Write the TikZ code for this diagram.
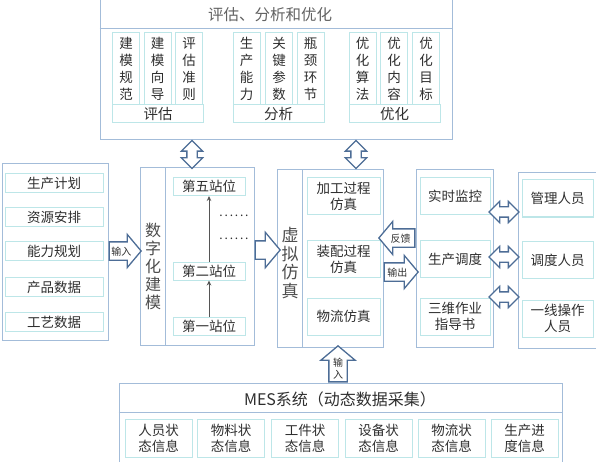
\documentclass[tikz,border=0pt]{standalone}
\usepackage{fontspec}
\setmainfont{Noto Sans CJK SC}
\usetikzlibrary{shapes.arrows,arrows.meta,calc}
\definecolor{outerc}{HTML}{A3BCD9}
\definecolor{innerc}{HTML}{BDE6E8}
\definecolor{arrc}{HTML}{4D6D96}
\definecolor{txt}{HTML}{2E2E2E}
\definecolor{lnc}{HTML}{555555}
\begin{document}
\begin{tikzpicture}[x=1pt,y=-1pt,
  every node/.style={text=txt, inner sep=0pt},
  outer/.style={draw=outerc, line width=1pt},
  inner/.style={draw=innerc, line width=1pt},
  vbox/.style={inner, minimum width=27, minimum height=72, align=center, font=\fontsize{13.5}{17}\selectfont},
  lbox/.style={inner, minimum width=91, minimum height=18, font=\fontsize{14.5}{14.5}\selectfont},
  litem/.style={inner, minimum width=98, minimum height=19, font=\fontsize{13.5}{13.5}\selectfont},
  stbox/.style={inner, minimum width=72, minimum height=18, font=\fontsize{13.5}{13.5}\selectfont},
  sbox/.style={inner, minimum width=73, minimum height=37, align=center, font=\fontsize{13.5}{16}\selectfont},
  cbox/.style={inner, minimum width=70, minimum height=37, align=center, font=\fontsize{13.5}{16}\selectfont},
  pbox/.style={inner, minimum width=71, minimum height=37, align=center, font=\fontsize{13.5}{16}\selectfont},
  mbox/.style={inner, minimum width=67, minimum height=38, align=center, font=\fontsize{13.5}{16}\selectfont},
  vlabel/.style={align=center},
  tarrow/.style={single arrow, draw=arrc, fill=white, line width=1.3pt,
     single arrow tip angle=100, single arrow head extend=7.5pt,
     inner xsep=1pt, inner ysep=3.5pt, text height=9pt, text depth=1pt,
     font=\fontsize{10}{10}\selectfont},
  earrow/.style={single arrow, draw=arrc, fill=white, line width=1.3pt,
     single arrow tip angle=100, single arrow head extend=8.5pt,
     inner xsep=0pt, inner ysep=8.5pt},
  darrow/.style={double arrow, draw=arrc, fill=white, line width=1.3pt,
     double arrow head extend=5.5pt, inner xsep=0pt, inner ysep=4.5pt},
  garrow/.style={draw=lnc, line width=1pt, -{Stealth[length=5pt,width=4.5pt]}}
]
\useasboundingbox (0,0) rectangle (596,462);

% ---------- top block ----------
\node[outer, minimum width=352, minimum height=142] (top) at (276,69) {};
\draw[outer] (top.west |- 0,29) -- (top.east |- 0,29);
\node[font=\fontsize{15.5}{15.5}\selectfont, text=txt!75] (hdr) at (270,15) {评估、分析和优化};

\node[vbox] (e1) at (126,69) {建\\模\\规\\范};
\node[vbox] (e2) at (157.5,69) {建\\模\\向\\导};
\node[vbox] (e3) at (189,69) {评\\估\\准\\则};
\node[lbox] (eval) at (158,114) {评估};

\node[vbox] (f1) at (246.5,69) {生\\产\\能\\力};
\node[vbox] (f2) at (279,69) {关\\键\\参\\数};
\node[vbox] (f3) at (310.5,69) {瓶\\颈\\环\\节};
\node[lbox] (ana) at (278.5,114) {分析};

\node[vbox] (g1) at (362.5,69) {优\\化\\算\\法};
\node[vbox] (g2) at (394,69) {优\\化\\内\\容};
\node[vbox] (g3) at (426,69) {优\\化\\目\\标};
\node[lbox] (opt) at (394.5,114) {优化};

% ---------- left input block ----------
\node[outer, minimum width=106, minimum height=176] (inp) at (55,252) {};
\node[litem] (l1) at (54,183) {生产计划};
\node[litem] (l2) at (54,217) {资源安排};
\node[litem] (l3) at (54,251) {能力规划};
\node[litem] (l4) at (54,287) {产品数据};
\node[litem] (l5) at (54,322) {工艺数据};

% ---------- digital modelling ----------
\node[outer, minimum width=114, minimum height=177] (model) at (197,256.5) {};
\draw[outer] ($(model.north west)+(26,0)$) -- ($(model.south west)+(26,0)$);
\node[vlabel, font=\fontsize{16}{18}\selectfont, text=txt!85] (modlbl) at (153,266) {数\\字\\化\\建\\模};
\node[stbox] (s5) at (209,186.5) {第五站位};
\node[stbox] (s2) at (209,271) {第二站位};
\node[stbox] (s1) at (209,326) {第一站位};
\draw[garrow] (s1) -- (s2);
\draw[garrow] (s2) -- (s5);
\node[font=\fontsize{12}{12}\selectfont] (dots1) at (234,216) {.\kern1.8pt.\kern1.8pt.\kern1.8pt.\kern1.8pt.\kern1.8pt.};
\node[font=\fontsize{12}{12}\selectfont] (dots2) at (234,239) {.\kern1.8pt.\kern1.8pt.\kern1.8pt.\kern1.8pt.\kern1.8pt.};

% ---------- virtual simulation ----------
\node[outer, minimum width=106, minimum height=177] (sim) at (330,258.5) {};
\draw[outer] ($(sim.north west)+(26,0)$) -- ($(sim.south west)+(26,0)$);
\node[vlabel, font=\fontsize{17}{18.5}\selectfont, text=txt!85] (simlbl) at (290,263) {虚\\拟\\仿\\真};
\node[sbox] (p1) at (343.5,196.5) {加工过程\\仿真};
\node[sbox] (p2) at (343.5,259) {装配过程\\仿真};
\node[sbox] (p3) at (343.5,316.5) {物流仿真};

% ---------- control ----------
\node[outer, minimum width=77, minimum height=177] (ctrl) at (454.5,258.5) {};
\node[cbox] (c1) at (455,196.5) {实时监控};
\node[cbox] (c2) at (455,259) {生产调度};
\node[cbox] (c3) at (455,316.5) {三维作业\\指导书};

% ---------- people ----------
\node[outer, minimum width=79, minimum height=175] (ppl) at (558,260.5) {};
\node[pbox] (m1) at (557.5,198.5) {管理人员};
\node[pbox] (m2) at (557.5,260) {调度人员};
\node[pbox] (m3) at (557.5,318.5) {一线操作\\人员};

% ---------- MES ----------
\node[outer, minimum width=443, minimum height=87] (mes) at (340.5,426.5) {};
\draw[outer] (mes.west |- 0,412) -- (mes.east |- 0,412);
\node[font=\fontsize{16}{16}\selectfont] (meshdr) at (340,399) {MES系统（动态数据采集）};
\node[mbox] (d1) at (158.5,438) {人员状\\态信息};
\node[mbox] (d2) at (231,438) {物料状\\态信息};
\node[mbox] (d3) at (305,438) {工件状\\态信息};
\node[mbox] (d4) at (378.5,438) {设备状\\态信息};
\node[mbox] (d5) at (451.5,438) {物流状\\态信息};
\node[mbox] (d6) at (524.5,438) {生产进\\度信息};

% ---------- block arrows ----------
\node[darrow, rotate=90, minimum height=28] (ud1) at ($(top.south -| 192,0)+(0,14)$) {};
\node[darrow, rotate=90, minimum height=28] (ud2) at ($(top.south -| 356,0)+(0,14)$) {};

\node[tarrow, anchor=tail, minimum height=32] (ain) at (inp.east |- 0,251) {输入};
\node[earrow, anchor=tail, minimum height=25] (amod) at (model.east |- 0,250) {};
\node[tarrow, anchor=tail, shape border rotate=180, minimum height=36] (afb) at (ctrl.west |- 0,238) {反馈};
\node[tarrow, anchor=tail, minimum height=34] (aout) at (sim.east |- 0,272) {输出};

\node[darrow, minimum height=30] (h1) at (504,212) {};
\node[darrow, minimum height=30] (h2) at (504,257) {};
\node[darrow, minimum height=30] (h3) at (504,297) {};

\node[single arrow, draw=arrc, fill=white, line width=1.3pt, single arrow tip angle=100,
  single arrow head extend=8pt, inner xsep=0pt, inner ysep=8.5pt,
  rotate=90, anchor=tail, minimum height=36] (aup) at (mes.north -| 338,0) {};
\node[align=center, font=\fontsize{10}{12}\selectfont] (auplbl) at (338,369) {输\\入};
\end{tikzpicture}
\end{document}
